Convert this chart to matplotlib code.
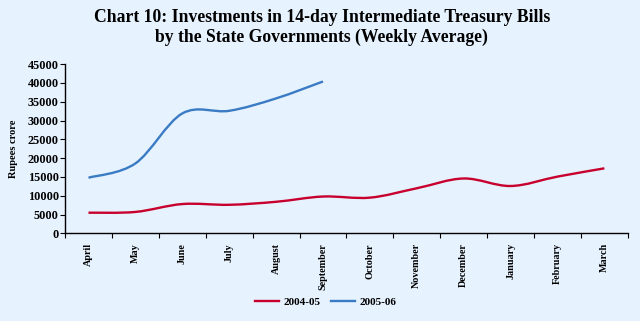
import matplotlib.pyplot as plt
from matplotlib.path import Path
from matplotlib.patches import PathPatch
from matplotlib.lines import Line2D
import numpy as np

months = ['April', 'May', 'June', 'July', 'August', 'September', 'October',
          'November', 'December', 'January', 'February', 'March']
inv_2004 = [5500, 5700, 7800, 7600, 8400, 9800, 9500, 12000, 14600, 12600, 15100, 17300]
inv_2005 = [14800, 18600, 31900, 32600, 35900, 40400]
yticks = np.arange(0, 45001, 5000)

bg = '#E6F2FE'
red = '#C8002D'
blue = '#3A7BC4'
serif = 'Liberation Serif'


def smooth_path(y):
    # cubic bezier through each point, tangents taken from the neighbours
    x = np.arange(len(y), dtype=float)
    y = np.asarray(y, dtype=float)
    pts = np.column_stack([x, y])
    verts = [pts[0]]
    codes = [Path.MOVETO]
    n = len(pts)
    for i in range(n - 1):
        p0 = pts[max(i - 1, 0)]
        p1 = pts[i]
        p2 = pts[i + 1]
        p3 = pts[min(i + 2, n - 1)]
        c1 = p1 + (p2 - p0) / 6.0
        c2 = p2 - (p3 - p1) / 6.0
        verts += [c1, c2, p2]
        codes += [Path.CURVE4] * 3
    return Path(verts, codes)


fig = plt.figure(figsize=(6.4, 3.21), dpi=100, facecolor=bg)
ax = fig.add_axes([0.1016, 0.273, 0.8794, 0.527], facecolor=bg)

ax.add_patch(PathPatch(smooth_path(inv_2004), fill=False, edgecolor=red, lw=1.7))
ax.add_patch(PathPatch(smooth_path(inv_2005), fill=False, edgecolor=blue, lw=1.7))

ax.set_xlim(-0.5, len(months) - 0.5)
ax.set_ylim(0, 45000)
ax.set_yticks(yticks)
ax.set_yticklabels([str(v) for v in yticks], fontfamily=serif, fontweight='bold', fontsize=8.8)
ax.set_xticks(np.arange(len(months)))
ax.set_xticklabels(months, rotation=90, fontfamily=serif, fontweight='bold', fontsize=7.3)
ax.set_xticks(np.arange(len(months) + 1) - 0.5, minor=True)
ax.tick_params(axis='x', which='major', length=0, pad=7)
ax.tick_params(axis='x', which='minor', length=3.5, width=0.8, direction='out')
ax.tick_params(axis='y', length=3.5, width=0.8, direction='out', pad=1)

for side in ['top', 'right']:
    ax.spines[side].set_visible(False)
for side in ['left', 'bottom']:
    ax.spines[side].set_linewidth(1.0)

ax.set_ylabel('Rupees crore', fontfamily=serif, fontweight='bold', fontsize=7.5, labelpad=7)

fig.text(0.503, 0.947, 'Chart 10: Investments in 14-day Intermediate Treasury Bills',
         ha='center', va='center', fontfamily=serif, fontweight='bold', fontsize=12.7)
fig.text(0.503, 0.885, 'by the State Governments (Weekly Average)',
         ha='center', va='center', fontfamily=serif, fontweight='bold', fontsize=12.7)

handles = [Line2D([], [], color=red, lw=1.7), Line2D([], [], color=blue, lw=1.7)]
fig.legend(handles, ['2004-05', '2005-06'], loc='center', bbox_to_anchor=(0.509, 0.059),
           ncol=2, frameon=False, handlelength=2.15, columnspacing=1.0, handletextpad=0.35,
           prop={'family': serif, 'weight': 'bold', 'size': 8})

plt.savefig('out.png', dpi=100, facecolor=bg)
